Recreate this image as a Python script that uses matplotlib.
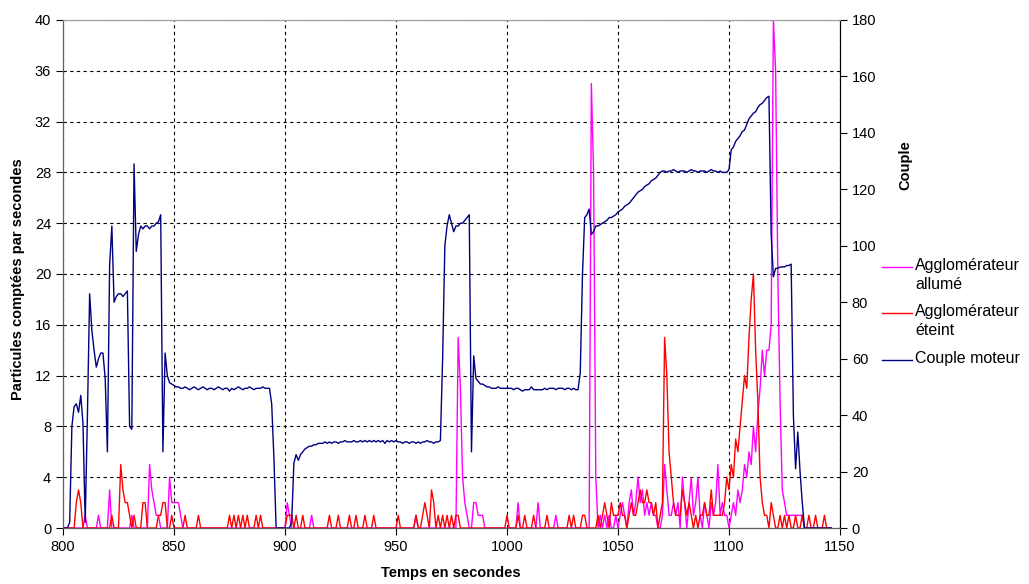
import matplotlib
matplotlib.use("Agg")
import matplotlib.pyplot as plt
from matplotlib.lines import Line2D

temps = list(range(800, 1147))

couple_moteur = (
    [0, 0, 0, 2, 36, 43, 44, 41, 47, 37]
    + [2, 40, 83, 70, 63, 57, 60, 62, 62, 53]
    + [27, 93, 107, 80, 82, 83, 83, 82, 83, 84]
    + [36, 35, 129, 98, 104, 107, 106, 107, 107, 106]
    + [107, 107, 108, 108.5, 111, 27, 62, 54, 51.5, 51]
    + [50.5, 50, 50, 49.5, 49.5, 50, 49.5, 49, 49.5, 50]
    + [49.5, 49, 49.5, 50, 49.5, 49, 49.5, 49.5, 49, 49.5]
    + [50, 49.5, 49, 49.5, 49.5, 48.5, 49.5, 49, 49.5, 50]
    + [49.5, 49, 49.5, 49.5, 50, 49.5, 49, 49.5, 49.5, 49.5]
    + [50, 49.5, 49.5, 49.5, 44, 25, 0, 0, 0, 0]
    + [0, 0, 0, 2, 23, 26, 24, 26, 27, 28]
    + [28.5, 29, 29, 29.5, 29.5, 30, 30, 30, 30.5, 30]
    + [30.5, 30, 30.5, 30.5, 30, 30.5, 30.5, 31, 30.5, 30.5]
    + [30.5, 31, 30.5, 30.5, 31, 30.5, 31, 30.5, 31, 30.5]
    + [31, 30.5, 31, 30.5, 31, 30, 31, 30.5, 31, 30.5]
    + [31, 30.5, 30.5, 30, 30.5, 30.5, 30, 30.5, 30.5, 30]
    + [30.5, 30, 30.5, 30.5, 31, 30.5, 30.5, 30, 30.5, 30.5]
    + [31, 60, 100, 107, 111, 108, 105, 107, 107, 108]
    + [108, 109, 110, 111, 27, 61, 53, 52, 51, 51]
    + [50.5, 50, 50, 49.5, 49.5, 49.5, 50, 49.5, 49.5, 49.5]
    + [49.5, 49.5, 49.5, 49, 49.5, 49.5, 49, 48.5, 49, 49]
    + [49, 50, 49, 49, 49, 49, 49, 49.5, 49, 49.5]
    + [49.5, 49.5, 49, 49.5, 49.5, 49.5, 49, 49.5, 49.5, 49]
    + [49.5, 49, 49, 55, 90, 110, 111, 113, 104, 105]
    + [107, 107, 107.5, 108, 108.5, 109, 110, 110, 110.5, 111]
    + [112, 112.5, 113, 114, 114.5, 115, 116, 117, 118, 119]
    + [119.5, 120, 121, 121.5, 122, 123, 123.5, 124, 125, 126]
    + [126.5, 126.5, 126, 126.5, 126.5, 127, 126.5, 126, 126.5, 126.5]
    + [126.5, 126, 126.5, 127, 126.5, 126.5, 126, 126.5, 126.5, 126.5]
    + [126, 126.5, 127, 126.5, 126.5, 126, 126.5, 126, 126, 126]
    + [127, 134, 135, 137, 138, 139, 140.5, 141, 143, 145]
    + [146, 147, 147.5, 149, 150, 150.5, 151.5, 152.5, 153, 104]
    + [89, 92, 92, 92.5, 92.5, 92.5, 93, 93, 93.5, 40]
    + [21, 34, 20, 9, 0, 0, 0, 0, 0, 0]
    + [0, 0, 0, 0, 0, 0, 0]
)

agglo_allume = (
    [0, 0, 0, 0, 0, 0, 0, 0, 0, 0]
    + [1, 0, 0, 0, 0, 0, 1, 0, 0, 0]
    + [0, 3, 0, 0, 0, 0, 0, 0, 0, 0]
    + [0, 1, 0, 0, 0, 0, 0, 0, 0, 5]
    + [3, 2, 1, 1, 0, 0, 0, 0, 4, 2]
    + [2, 2, 2, 1, 0, 0, 0, 0, 0, 0]
    + [0, 0, 0, 0, 0, 0, 0, 0, 0, 0]
    + [0, 0, 0, 0, 0, 0, 0, 0, 0, 0]
    + [0, 0, 0, 0, 0, 0, 0, 0, 0, 0]
    + [0, 0, 0, 0, 0, 0, 0, 0, 0, 0]
    + [0, 2, 1, 0, 0, 0, 0, 0, 0, 0]
    + [0, 0, 1, 0, 0, 0, 0, 0, 0, 0]
    + [0, 0, 0, 0, 0, 0, 0, 0, 0, 0]
    + [0, 0, 0, 0, 0, 0, 0, 0, 0, 0]
    + [0, 0, 0, 0, 0, 0, 0, 0, 0, 0]
    + [0, 0, 0, 0, 0, 0, 0, 0, 0, 1]
    + [0, 0, 0, 0, 0, 0, 0, 0, 0, 0]
    + [0, 0, 0, 0, 0, 0, 0, 0, 15, 11]
    + [4, 2, 1, 0, 0, 2, 2, 1, 1, 1]
    + [0, 0, 0, 0, 0, 0, 0, 0, 0, 0]
    + [0, 0, 0, 0, 0, 2, 0, 0, 0, 0]
    + [0, 0, 0, 0, 2, 0, 0, 0, 0, 0]
    + [0, 0, 1, 0, 0, 0, 0, 0, 0, 0]
    + [0, 0, 0, 0, 0, 0, 0, 0, 35, 28]
    + [4, 0, 1, 0, 1, 0, 1, 0, 0, 1]
    + [0, 1, 2, 1, 0, 2, 3, 1, 2, 4]
    + [2, 3, 1, 2, 1, 2, 1, 1, 0, 0]
    + [1, 5, 3, 1, 1, 2, 1, 2, 0, 4]
    + [2, 0, 2, 4, 1, 2, 4, 1, 0, 2]
    + [1, 0, 2, 1, 2, 5, 1, 2, 1, 1]
    + [0, 1, 2, 1, 3, 2, 3, 5, 4, 6]
    + [5, 8, 6, 9, 11, 14, 12, 14, 14, 16]
    + [40, 36, 20, 10, 3, 2, 1, 1, 1, 1]
    + [1, 1, 1, 1, 0, 0, 0, 0, 0, 0]
    + [0, 0, 0, 0, 0, 0, 0]
)

agglo_eteint = (
    [0, 0, 0, 0, 0, 0, 2, 3, 2, 0]
    + [0, 0, 0, 0, 0, 0, 0, 0, 0, 0]
    + [0, 0, 1, 0, 0, 0, 5, 3, 2, 2]
    + [1, 0, 1, 0, 0, 0, 2, 2, 0, 0]
    + [0, 0, 0, 1, 1, 2, 2, 0, 0, 1]
    + [0, 0, 0, 0, 0, 1, 0, 0, 0, 0]
    + [0, 1, 0, 0, 0, 0, 0, 0, 0, 0]
    + [0, 0, 0, 0, 0, 1, 0, 1, 0, 1]
    + [0, 1, 0, 1, 0, 0, 0, 1, 0, 1]
    + [0, 0, 0, 0, 0, 0, 0, 0, 0, 0]
    + [0, 1, 1, 1, 0, 1, 0, 0, 1, 0]
    + [0, 0, 0, 0, 0, 0, 0, 0, 0, 0]
    + [1, 0, 0, 0, 1, 0, 0, 0, 0, 1]
    + [0, 0, 1, 0, 0, 0, 1, 0, 0, 0]
    + [1, 0, 0, 0, 0, 0, 0, 0, 0, 0]
    + [0, 1, 0, 0, 0, 0, 0, 0, 0, 1]
    + [0, 0, 1, 2, 1, 0, 3, 2, 0, 1]
    + [0, 1, 0, 1, 0, 1, 0, 1, 1, 0]
    + [0, 0, 0, 0, 0, 0, 0, 0, 0, 0]
    + [0, 0, 0, 0, 0, 0, 0, 0, 0, 0]
    + [1, 0, 0, 0, 0, 1, 0, 0, 1, 0]
    + [0, 0, 1, 0, 0, 0, 0, 0, 1, 0]
    + [0, 0, 0, 0, 0, 0, 0, 0, 1, 0]
    + [1, 0, 0, 0, 1, 1, 0, 0, 0, 0]
    + [0, 1, 0, 1, 2, 1, 0, 2, 1, 1]
    + [1, 2, 1, 1, 0, 1, 2, 1, 1, 2]
    + [3, 2, 2, 3, 2, 2, 1, 2, 0, 1]
    + [2, 15, 12, 6, 4, 2, 1, 1, 1, 3]
    + [2, 1, 2, 1, 0, 1, 0, 1, 1, 2]
    + [1, 1, 3, 1, 1, 1, 1, 1, 2, 4]
    + [3, 5, 4, 7, 6, 8, 10, 12, 11, 15]
    + [18, 20, 14, 10, 4, 2, 1, 1, 0, 2]
    + [1, 0, 0, 1, 0, 1, 0, 1, 0, 0]
    + [1, 0, 0, 1, 0, 0, 1, 0, 0, 1]
    + [0, 0, 0, 1, 0, 0, 0]
)

x_ticks = [800, 850, 900, 950, 1000, 1050, 1100, 1150]
y_left_ticks = [0, 4, 8, 12, 16, 20, 24, 28, 32, 36, 40]
y_right_ticks = [0, 20, 40, 60, 80, 100, 120, 140, 160, 180]
series_labels = ["Agglomérateur\nallumé", "Agglomérateur\néteint", "Couple moteur"]

plt.rcParams['font.family'] = ['Liberation Sans', 'DejaVu Sans']

W, H = 1029, 584
fig = plt.figure(figsize=(W / 100, H / 100), dpi=100)
fig.patch.set_facecolor('white')

L, R, T, B = 63, 840, 20, 528
ax = fig.add_axes([L / W, 1 - B / H, (R - L) / W, (B - T) / H])

c_allume = '#FF00FF'
c_eteint = '#FF0000'
c_couple = '#000080'

ax.plot(temps, agglo_allume, color=c_allume, lw=1.0, zorder=3)
ax.plot(temps, agglo_eteint, color=c_eteint, lw=1.0, zorder=4)
ax.set_xlim(800, 1150)
ax.set_ylim(0, 40)
ax.set_xticks(x_ticks)
ax.set_yticks(y_left_ticks)
ax.grid(True, color='black', linestyle=(0, (3, 3)), linewidth=0.8)
ax.set_axisbelow(True)

ax2 = ax.twinx()
ax2.plot(temps, couple_moteur, color=c_couple, lw=1.0)
ax2.set_ylim(0, 180)
ax2.set_yticks(y_right_ticks)

for a in (ax, ax2):
    a.tick_params(labelsize=10.5, length=5, width=0.8, direction='out', colors='black')
for a in (ax, ax2):
    a.spines['top'].set_color('#a0a0a0')
    a.spines['left'].set_color('#606060')
    a.spines['bottom'].set_color('#606060')
    a.spines['right'].set_color('black')

fig.text(451 / W, 1 - 573 / H, "Temps en secondes",
         fontsize=10.5, fontweight='bold', ha='center', va='center')
fig.text(18 / W, 1 - 279 / H, "Particules comptées par secondes", rotation=90,
         fontsize=10.5, fontweight='bold', ha='center', va='center')
fig.text(905 / W, 1 - 165 / H, "Couple", rotation=90,
         fontsize=10.5, fontweight='bold', ha='center', va='center')

# legend drawn manually (sample line aligned with the first text line)
entries = [(267, c_allume, series_labels[0]),
           (313, c_eteint, series_labels[1]),
           (360, c_couple, series_labels[2])]
for yy, col, lab in entries:
    fig.add_artist(Line2D([882 / W, 912 / W], [1 - yy / H, 1 - yy / H],
                          color=col, lw=1.0, transform=fig.transFigure))
    fig.text(915 / W, 1 - (yy - 9) / H, lab, fontsize=11.5, ha='left', va='top',
             linespacing=1.3)

fig.savefig('out.png', dpi=100)
